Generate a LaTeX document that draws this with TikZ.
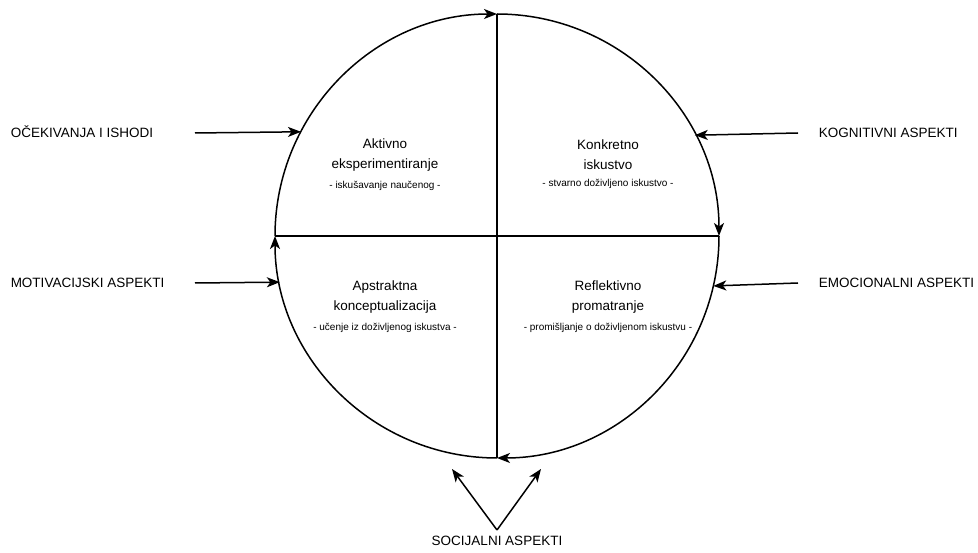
\documentclass[tikz,border=0pt]{standalone}
\usepackage{fontspec}
\setmainfont{Liberation Sans}
\usetikzlibrary{arrows.meta,positioning}

\begin{document}
\begin{tikzpicture}[
     x = 1pt, y = 1pt,
     line width = 1.5pt,
     arr/.style = {-{Stealth[length=13pt, width=10pt, inset=3.5pt]}},
     title/.style = {align = center, font = \fontsize{13.5}{20}\selectfont, inner sep = 0pt},
     note/.style = {font = \fontsize{10}{12}\selectfont, inner sep = 0pt},
     aspect/.style = {font = \fontsize{13.5}{16}\selectfont, inner sep = 0pt,
                      text height = 10pt, text depth = 0pt}
    ]
    \useasboundingbox (0,0) rectangle (978,552);

    % the cycle
    \node[circle, minimum size = 444pt, inner sep = 0pt, outer sep = 0pt] (krug) at (497,316) {};
    \foreach \a/\b in {west/180, north/90, east/0, south/270}
      \draw[arr] (krug.\a) arc[start angle = \b, delta angle = -90, radius = 222];
    \draw (krug.west) -- (krug.east);
    \draw (krug.north) -- (krug.south);

    % the four stages
    \node[title] (aktivno) at (385,397) {Aktivno\\eksperimentiranje};
    \node[note, below = 8pt of aktivno] {- iskušavanje naučenog -};

    \node[title] (konkretno) at (608,397) {Konkretno\\iskustvo};
    \node[note, below = 8pt of konkretno] {- stvarno doživljeno iskustvo -};

    \node[title] (apstraktna) at (385,255) {Apstraktna\\konceptualizacija};
    \node[note, below = 8pt of apstraktna] {- učenje iz doživljenog iskustva -};

    \node[title] (reflektivno) at (608,255) {Reflektivno\\promatranje};
    \node[note, below = 8pt of reflektivno] {- promišljanje o doživljenom iskustvu -};

    % aspects
    \node[aspect, anchor = west] (ocek) at (10,419) {OČEKIVANJA I ISHODI};
    \node[aspect, anchor = west] (motiv) at (10,269) {MOTIVACIJSKI ASPEKTI};
    \node[aspect, anchor = west] (kogn) at (818,419) {KOGNITIVNI ASPEKTI};
    \node[aspect, anchor = west] (emoc) at (818,269) {EMOCIONALNI ASPEKTI};
    \node[aspect, anchor = north] (soc) at (497,17) {SOCIJALNI ASPEKTI};

    \coordinate (ocek-s) at (195,419);
    \coordinate (motiv-s) at (195,269);
    \coordinate (kogn-s) at (798,419);
    \coordinate (emoc-s) at (798,269);
    \coordinate (soc-l) at (452,83);
    \coordinate (soc-r) at (541,83);

    \draw[arr] (ocek-s) -- (krug.152.35);
    \draw[arr] (motiv-s) -- (krug.192.2);
    \draw[arr] (kogn-s) -- (krug.27.65);
    \draw[arr] (emoc-s) -- (krug.347.8);
    \draw[arr] ([yshift=5pt]soc.north) -- (soc-l);
    \draw[arr] ([yshift=5pt]soc.north) -- (soc-r);

   \end{tikzpicture}
\end{document}
